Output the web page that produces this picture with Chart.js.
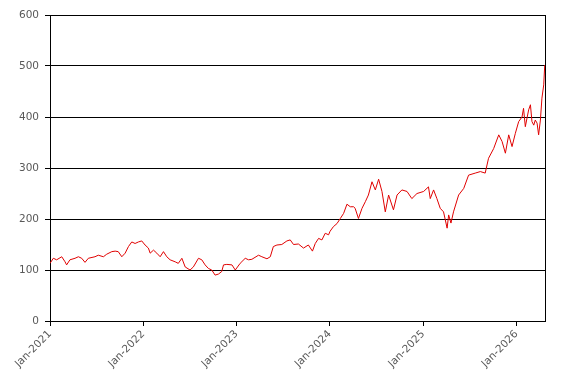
<!DOCTYPE html>
<html>
<head>
<meta charset="utf-8">
<script src="https://cdn.jsdelivr.net/npm/chart.js@4"></script>
<style>
  html, body { margin: 0; padding: 0; background: #fff; }
</style>
</head>
<body>
<canvas id="priceChart" width="572" height="385"></canvas>
<script>
const dates = [
  '2021-01-01', '2021-01-14', '2021-01-27', '2021-02-16', '2021-03-01', '2021-03-07', '2021-03-20', '2021-04-09',
  '2021-04-22', '2021-05-05', '2021-05-18', '2021-05-31', '2021-06-26', '2021-07-09', '2021-07-29', '2021-08-11',
  '2021-08-31', '2021-09-13', '2021-09-25', '2021-10-09', '2021-10-22', '2021-11-04', '2021-11-17', '2021-11-30',
  '2021-12-13', '2021-12-26', '2022-01-08', '2022-01-21', '2022-01-28', '2022-02-10', '2022-02-23', '2022-03-08',
  '2022-03-21', '2022-04-03', '2022-04-16', '2022-05-06', '2022-05-18', '2022-06-01', '2022-06-14', '2022-07-03',
  '2022-07-16', '2022-08-05', '2022-08-18', '2022-08-31', '2022-09-13', '2022-09-26', '2022-10-09', '2022-10-22',
  '2022-11-04', '2022-11-11', '2022-11-24', '2022-12-14', '2022-12-27', '2023-01-15', '2023-02-04', '2023-02-17',
  '2023-03-02', '2023-03-28', '2023-04-10', '2023-04-30', '2023-05-13', '2023-05-25', '2023-06-08', '2023-06-27',
  '2023-07-17', '2023-07-30', '2023-08-12', '2023-08-31', '2023-09-20', '2023-10-09', '2023-10-25', '2023-11-05',
  '2023-11-18', '2023-12-01', '2023-12-14', '2023-12-27', '2024-01-02', '2024-01-15', '2024-01-29', '2024-02-11',
  '2024-02-24', '2024-03-08', '2024-03-21', '2024-04-03', '2024-04-09', '2024-04-22', '2024-05-06', '2024-05-19',
  '2024-05-31', '2024-06-14', '2024-06-27', '2024-07-10', '2024-07-23', '2024-08-05', '2024-08-18', '2024-09-06',
  '2024-09-20', '2024-10-09', '2024-10-29', '2024-11-17', '2024-12-07', '2025-01-02', '2025-01-21', '2025-01-28',
  '2025-02-10', '2025-02-23', '2025-03-08', '2025-03-21', '2025-04-04', '2025-04-10', '2025-04-19', '2025-04-29',
  '2025-05-19', '2025-06-08', '2025-06-27', '2025-07-23', '2025-08-12', '2025-08-31', '2025-09-13', '2025-10-03',
  '2025-10-23', '2025-11-05', '2025-11-18', '2025-12-01', '2025-12-14', '2025-12-27', '2026-01-09', '2026-01-22',
  '2026-01-28', '2026-02-04', '2026-02-17', '2026-02-24', '2026-03-02', '2026-03-09', '2026-03-15', '2026-03-22',
  '2026-03-28', '2026-04-04', '2026-04-10', '2026-04-17', '2026-04-21'
];
const values = [
  113, 123, 120, 126, 116, 110, 120, 123,
  126, 123, 115, 123, 126, 129, 126, 131,
  136, 137, 136, 126, 133, 146, 155, 152,
  155, 157, 149, 143, 133, 139, 133, 126,
  136, 126, 120, 116, 113, 123, 106, 100,
  106, 123, 120, 110, 103, 100, 90, 92,
  97, 110, 111, 110, 100, 113, 123, 120,
  121, 129, 126, 122, 126, 146, 149, 150,
  157, 159, 150, 151, 143, 149, 137, 152,
  162, 159, 172, 169, 176, 185, 191, 201,
  211, 229, 224, 224, 221, 201, 221, 234,
  247, 273, 257, 278, 254, 214, 247, 218,
  247, 257, 254, 240, 250, 254, 263, 240,
  257, 240, 221, 214, 182, 208, 192, 214,
  247, 260, 286, 290, 293, 290, 319, 338,
  365, 352, 329, 365, 342, 368, 391, 400,
  417, 381, 414, 424, 391, 384, 394, 388,
  365, 394, 437, 463, 502
];
const tickDates = ['2021-01-01', '2022-01-01', '2023-01-01', '2024-01-01', '2025-01-01', '2026-01-01'];
const tickLabels = ['Jan-2021', 'Jan-2022', 'Jan-2023', 'Jan-2024', 'Jan-2025', 'Jan-2026'];
const yTicks = [0, 100, 200, 300, 400, 500, 600];

const start = Date.parse('2021-01-01');
function dayOf(d) {
  return (Date.parse(d) - start) / 86400000;
}

const points = dates.map((d, i) => ({ x: dayOf(d), y: values[i] }));
const tickDays = tickDates.map(dayOf);

new Chart(document.getElementById('priceChart'), {
  type: 'line',
  data: {
    datasets: [{
      data: points,
      borderColor: '#e00000',
      borderWidth: 1,
      pointRadius: 0,
      tension: 0,
      fill: false
    }]
  },
  options: {
    responsive: false,
    animation: false,
    layout: { padding: { top: 15, right: 27, left: 0, bottom: 0 } },
    plugins: {
      legend: { display: false },
      tooltip: { enabled: false }
    },
    scales: {
      x: {
        type: 'linear',
        min: 0,
        max: dayOf('2026-04-22'),
        afterBuildTicks: s => { s.ticks = tickDays.map(v => ({ value: v })); },
        afterFit: s => { s.height = 64; },
        ticks: {
          autoSkip: false,
          minRotation: 45,
          maxRotation: 45,
          padding: 2,
          color: '#595959',
          font: { family: 'DejaVu Sans', size: 10.5 },
          callback: v => tickLabels[tickDays.indexOf(v)]
        },
        grid: {
          drawOnChartArea: false,
          drawTicks: true,
          tickLength: 5,
          color: '#000'
        },
        border: { display: true, color: '#000', width: 1 }
      },
      y: {
        min: 0,
        max: 600,
        afterBuildTicks: s => { s.ticks = yTicks.map(v => ({ value: v })); },
        afterFit: s => { s.width = 50; },
        ticks: {
          padding: 6,
          color: '#595959',
          font: { family: 'DejaVu Sans', size: 10.5 }
        },
        grid: {
          color: '#000',
          lineWidth: 1,
          tickLength: 5
        },
        border: { display: true, color: '#000', width: 1 }
      },
      yRight: {
        position: 'right',
        min: 0,
        max: 600,
        afterFit: s => { s.width = 0; },
        ticks: { display: false },
        grid: { display: false },
        border: { display: true, color: '#000', width: 1 }
      }
    }
  }
});
</script>
</body>
</html>
